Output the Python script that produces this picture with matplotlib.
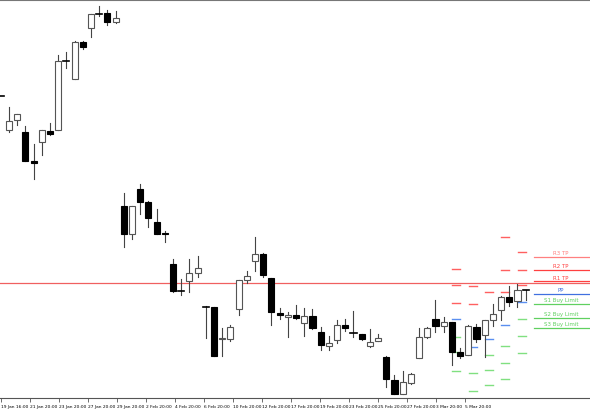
import numpy as np
import matplotlib.pyplot as plt
from matplotlib.patches import Rectangle

# OHLC in chart points (price scale)
opens = [303, 269, 279, 267, 238, 257, 268, 269, 338, 320, 357, 371, 385, 386, 377,
         193, 165, 210, 197, 177, 166, 135, 108, 118, 126, 92, 92, 60, 60, 90,
         119, 138, 145, 121, 86, 82, 84, 76, 83, 67, 53, 59, 74, 66, 65,
         53, 58, 42, 19, 5, 16, 41, 62, 80, 73, 77, 47, 44, 72, 64,
         79, 89, 102, 98, 109]
highs = [303, 292, 285, 273, 255, 269, 276, 344, 347, 358, 358, 385, 393, 389, 388,
         206, 193, 215, 198, 190, 168, 140, 120, 140, 143, 93, 92, 71, 74, 119,
         128, 162, 146, 121, 91, 87, 94, 91, 90, 72, 63, 79, 80, 88, 65,
         70, 65, 43, 24, 28, 26, 71, 72, 99, 82, 77, 51, 74, 75, 79,
         95, 103, 113, 115, 109]
lows = [303, 267, 274, 238, 220, 244, 264, 269, 331, 320, 350, 362, 383, 374, 376,
        152, 160, 185, 172, 165, 157, 107, 104, 107, 122, 61, 43, 43, 58, 84,
        116, 128, 122, 74, 80, 62, 80, 63, 70, 49, 49, 56, 68, 62, 59,
        52, 58, 12, 5, 5, 15, 41, 61, 67, 67, 34, 41, 44, 57, 42,
        73, 79, 93, 92, 99]
closes = [303, 278, 285, 238, 236, 269, 265, 338, 338, 357, 352, 385, 385, 377, 381,
          165, 193, 197, 181, 165, 165, 108, 108, 126, 131, 92, 43, 61, 72, 119,
          123, 145, 124, 87, 84, 84, 81, 83, 71, 54, 56, 74, 71, 66, 60,
          57, 61, 20, 5, 17, 25, 62, 71, 73, 77, 47, 43, 73, 60, 79,
          85, 102, 97, 109, 109]

tick_pos = [0.0, 3.5, 7.1, 10.6, 14.2, 17.7, 21.2, 24.8, 28.3, 31.8, 35.4, 38.9, 42.5, 46.0, 49.5, 53.1, 56.6]
tick_labels = ["19 Jan 16:00", "21 Jan 20:00", "23 Jan 20:00", "27 Jan 20:00", "29 Jan 20:00",
               "2 Feb 20:00", "4 Feb 20:00", "6 Feb 20:00", "10 Feb 20:00", "12 Feb 20:00",
               "17 Feb 20:00", "19 Feb 20:00", "23 Feb 20:00", "25 Feb 20:00", "27 Feb 20:00",
               "3 Mar 20:00", "5 Mar 20:00"]

# daily pivot dashes: column position, resistance, pivot, support levels
dash_x = [55.5, 57.6, 59.5, 61.5, 63.6]
dash_r = [[130, 114, 96], [113, 95], [107], [162, 129, 107], [147, 129, 114]]
dash_pp = [80, 52, 60, 74, 97]
dash_s = [[62, 47, 28], [26, 8], [44, 29, 14], [53, 36, 20], [80, 63, 46]]

level_names = ["R3 TP", "R2 TP", "R1 TP", "PP", "S1 Buy Limit", "S2 Buy Limit", "S3 Buy Limit"]
level_values = [142, 129, 118, 105, 95, 81, 71]
level_colors = ["#ff8080", "#ff4040", "#ff4040", "#4070e0", "#60d060", "#60d060", "#60d060"]
price_line = 116

red, blue, green = "#ff6060", "#5b8ff0", "#80e080"
small_font = ["Liberation Sans Narrow", "DejaVu Sans"]

fig = plt.figure(figsize=(5.9, 4.1), dpi=100)
ax = fig.add_axes([0, 11 / 410, 1, 398 / 410])

w = 0.75
for i, (o, h, l, c) in enumerate(zip(opens, highs, lows, closes)):
    ax.plot([i, i], [l, h], color="#444444", lw=0.8, zorder=2)
    lo, hi = min(o, c), max(o, c)
    if hi - lo < 1:
        ax.plot([i - w / 2, i + w / 2], [o, o], color="black", lw=1.2, zorder=3)
    else:
        fc = "white" if c > o else "black"
        ax.add_patch(Rectangle((i - w / 2, lo), w, hi - lo, facecolor=fc,
                               edgecolor="#555555" if c > o else "black", lw=0.8, zorder=3))

for x, rs, pp, ss in zip(dash_x, dash_r, dash_pp, dash_s):
    for v in rs:
        ax.plot([x - 0.5, x + 0.5], [v, v], color=red, lw=1, zorder=1)
    ax.plot([x - 0.5, x + 0.5], [pp, pp], color=blue, lw=1, zorder=1)
    for v in ss:
        ax.plot([x - 0.5, x + 0.5], [v, v], color=green, lw=1, zorder=1)

ax.axhline(price_line, color="#f06060", lw=0.9, zorder=1)
for name, v, col in zip(level_names, level_values, level_colors):
    ax.plot([65.0, 71.9], [v, v], color=col, lw=0.9, zorder=1)
    ax.text(68.3, v + 1.5, name, color=col, fontsize=4.0, ha="center", va="bottom",
            family=small_font)

ax.set_xlim(-0.1, 71.85)
ax.set_ylim(1, 399)
ax.set_yticks([])
ax.set_xticks(tick_pos)
ax.set_xticklabels(tick_labels, fontsize=3.2, ha="left", family=small_font)
ax.tick_params(axis="x", length=3, width=0.6, pad=1, color="#555555")
for s in ["left", "right"]:
    ax.spines[s].set_visible(False)
ax.spines["top"].set_color("#777777")
ax.spines["bottom"].set_color("#555555")

fig.savefig("out.png", dpi=100)
